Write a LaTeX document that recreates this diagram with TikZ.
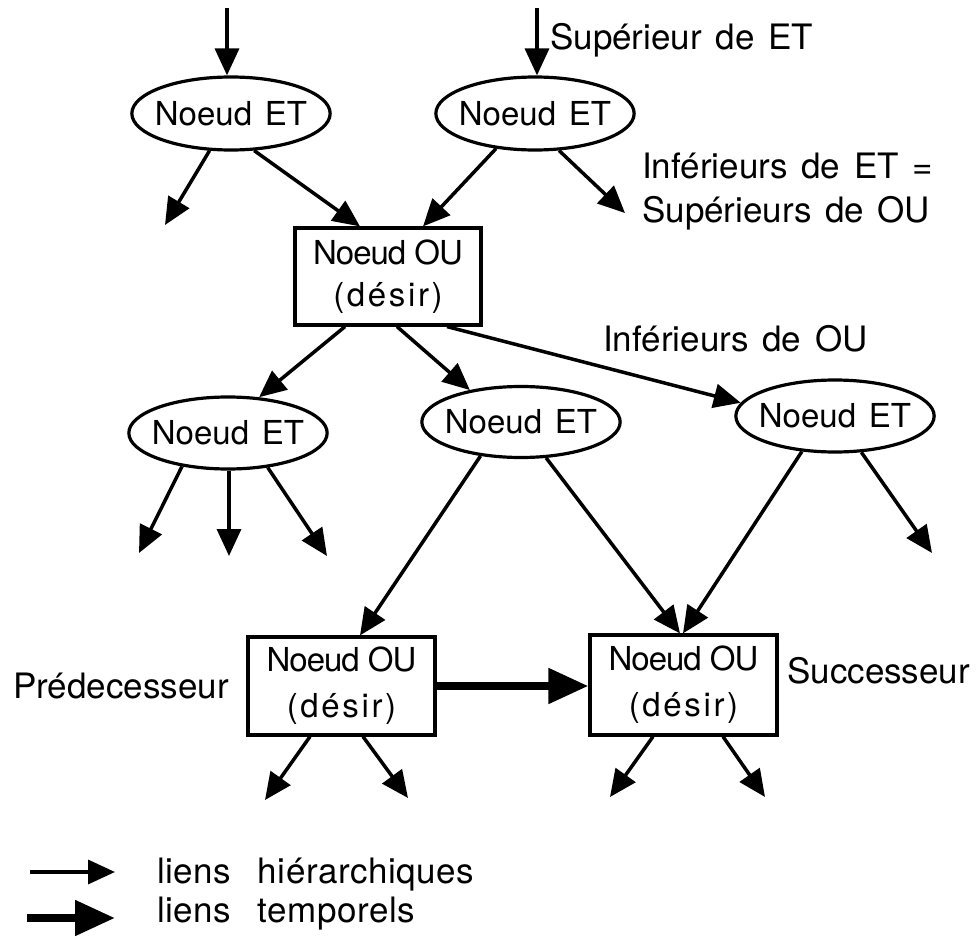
\documentclass[tikz,border=0pt]{standalone}
\usepackage{fontspec}
\setmainfont{TeX Gyre Heros}
\newfontfamily\nodefont{TeX Gyre Heros}
\newfontfamily\tightfont[LetterSpace=-3]{TeX Gyre Heros}
\newfontfamily\widefont[LetterSpace=8]{TeX Gyre Heros}
\newfontfamily\labelfont[WordSpace=1.4]{TeX Gyre Heros}
\newfontfamily\legendfont[WordSpace=2.6,LetterSpace=1.5]{TeX Gyre Heros}
\usetikzlibrary{shapes.geometric,arrows.meta,calc}

\begin{document}
\begin{tikzpicture}[x=1pt,y=-1pt,
  etnode/.style={ellipse, draw, line width=3.2pt, inner xsep=-6pt, inner ysep=0pt,
    font=\fontsize{33}{40}\selectfont\nodefont},
  ounode/.style={rectangle, draw, line width=3.2pt, inner sep=0pt, align=center},
  hier/.style={line width=3.5pt, -{Triangle[length=27pt,width=24pt]}},
  temp/.style={line width=8pt, -{Triangle[length=40pt,width=34pt]}},
  lbl/.style={anchor=base west, inner sep=0pt,
    font=\fontsize{35}{42}\selectfont\labelfont},
  leg/.style={anchor=base west, inner sep=0pt,
    font=\fontsize{35}{42}\selectfont\legendfont}]

\path[use as bounding box] (0,0) rectangle (978,942);

% AND nodes
\node[etnode, minimum width=198pt, minimum height=73pt] (et1) at (231,113.5) {Noeud ET};
\node[etnode, minimum width=196pt, minimum height=73pt] (et2) at (535,113.5) {Noeud ET};
\node[etnode, minimum width=198pt, minimum height=72pt] (et3) at (228,433) {Noeud ET};
\node[etnode, minimum width=197pt, minimum height=71pt] (et4) at (521,422) {Noeud ET};
\node[etnode, minimum width=196pt, minimum height=72pt] (et5) at (835,416) {Noeud ET};

% OR nodes (desires)
\node[ounode, minimum width=186pt, minimum height=97pt,
  font=\fontsize{33}{42}\selectfont\nodefont] (or1) at (388,276.5)
  {{\tightfont Noeud OU}\\{\widefont(désir)}};
\node[ounode, minimum width=187pt, minimum height=98pt,
  font=\fontsize{33}{46}\selectfont\nodefont] (or2) at (341.5,686)
  {{\tightfont Noeud OU}\\{\widefont(désir)}};
\node[ounode, minimum width=187pt, minimum height=100pt,
  font=\fontsize{33}{46}\selectfont\nodefont] (or3) at (683.5,685)
  {{\tightfont Noeud OU}\\{\widefont(désir)}};

% free ends of the open links
\coordinate (top1) at (227,8);
\coordinate (top2) at (537,8);
\coordinate (a1) at (165,225);
\coordinate (a2) at (625,213);
\coordinate (b1) at (139,553);
\coordinate (b2) at (229,556);
\coordinate (b3) at (327,556);
\coordinate (b4) at (932,553);
\coordinate (c1) at (265,800);
\coordinate (c2) at (408,798);
\coordinate (c3) at (610,797);
\coordinate (c4) at (765,797);

% hierarchical links
\draw[hier] (top1) -- (top1 |- et1.north);
\draw[hier] (top2) -- (top2 |- et2.north);
\draw[hier] (et1.240) -- (a1);
\draw[hier] (et1.302) -- ([xshift=-28pt]or1.north);
\draw[hier] (et2.222) -- ([xshift=35pt]or1.north);
\draw[hier] (et2.303) -- (a2);
\draw[hier] ([xshift=-43pt]or1.south) -- (et3.49);
\draw[hier] ([xshift=9pt]or1.south) -- (et4.148);
\draw[hier] ([xshift=59pt]or1.south) -- (et5.172);
\draw[hier] (et3.216) -- (b1);
\draw[hier] (b2 |- et3.south) -- (b2);
\draw[hier] (et3.319) -- (b3);
\draw[hier] (et4.220) -- ([xshift=18.5pt]or2.north);
\draw[hier] (et4.305) -- ([xshift=-3.5pt]or3.north);
\draw[hier] (et5.227) -- ([xshift=-0.5pt]or3.north);
\draw[hier] (et5.306) -- (b4);
\draw[hier] ([xshift=-31.5pt]or2.south) -- (c1);
\draw[hier] ([xshift=21.5pt]or2.south) -- (c2);
\draw[hier] ([xshift=-30.5pt]or3.south) -- (c3);
\draw[hier] ([xshift=39.5pt]or3.south) -- (c4);

% temporal link
\draw[temp] (or2.east) -- (or2.east -| or3.west);

% labels
\node[lbl] (lsup) at (550,50) {Supérieur de ET};
\node[lbl] (linfet) at (642,178) {Inférieurs de ET =};
\node[lbl] (lsupou) at (642,222) {Supérieurs de OU};
\node[lbl] (linfou) at (603,351) {Inférieurs de OU};
\node[lbl] (lpred) at (13,698) {Prédecesseur};
\node[lbl] (lsucc) at (787,683) {Successeur};

% legend
\coordinate (l1a) at (30,872);
\coordinate (l1b) at (115,872);
\coordinate (l2a) at (27,918);
\coordinate (l2b) at (115,918);
\draw[hier] (l1a) -- (l1b);
\draw[temp] (l2a) -- (l2b);
\node[leg] (leg1) at (157,883) {liens hiérarchiques};
\node[leg] (leg2) at (157,922) {liens temporels};

\end{tikzpicture}
\end{document}
